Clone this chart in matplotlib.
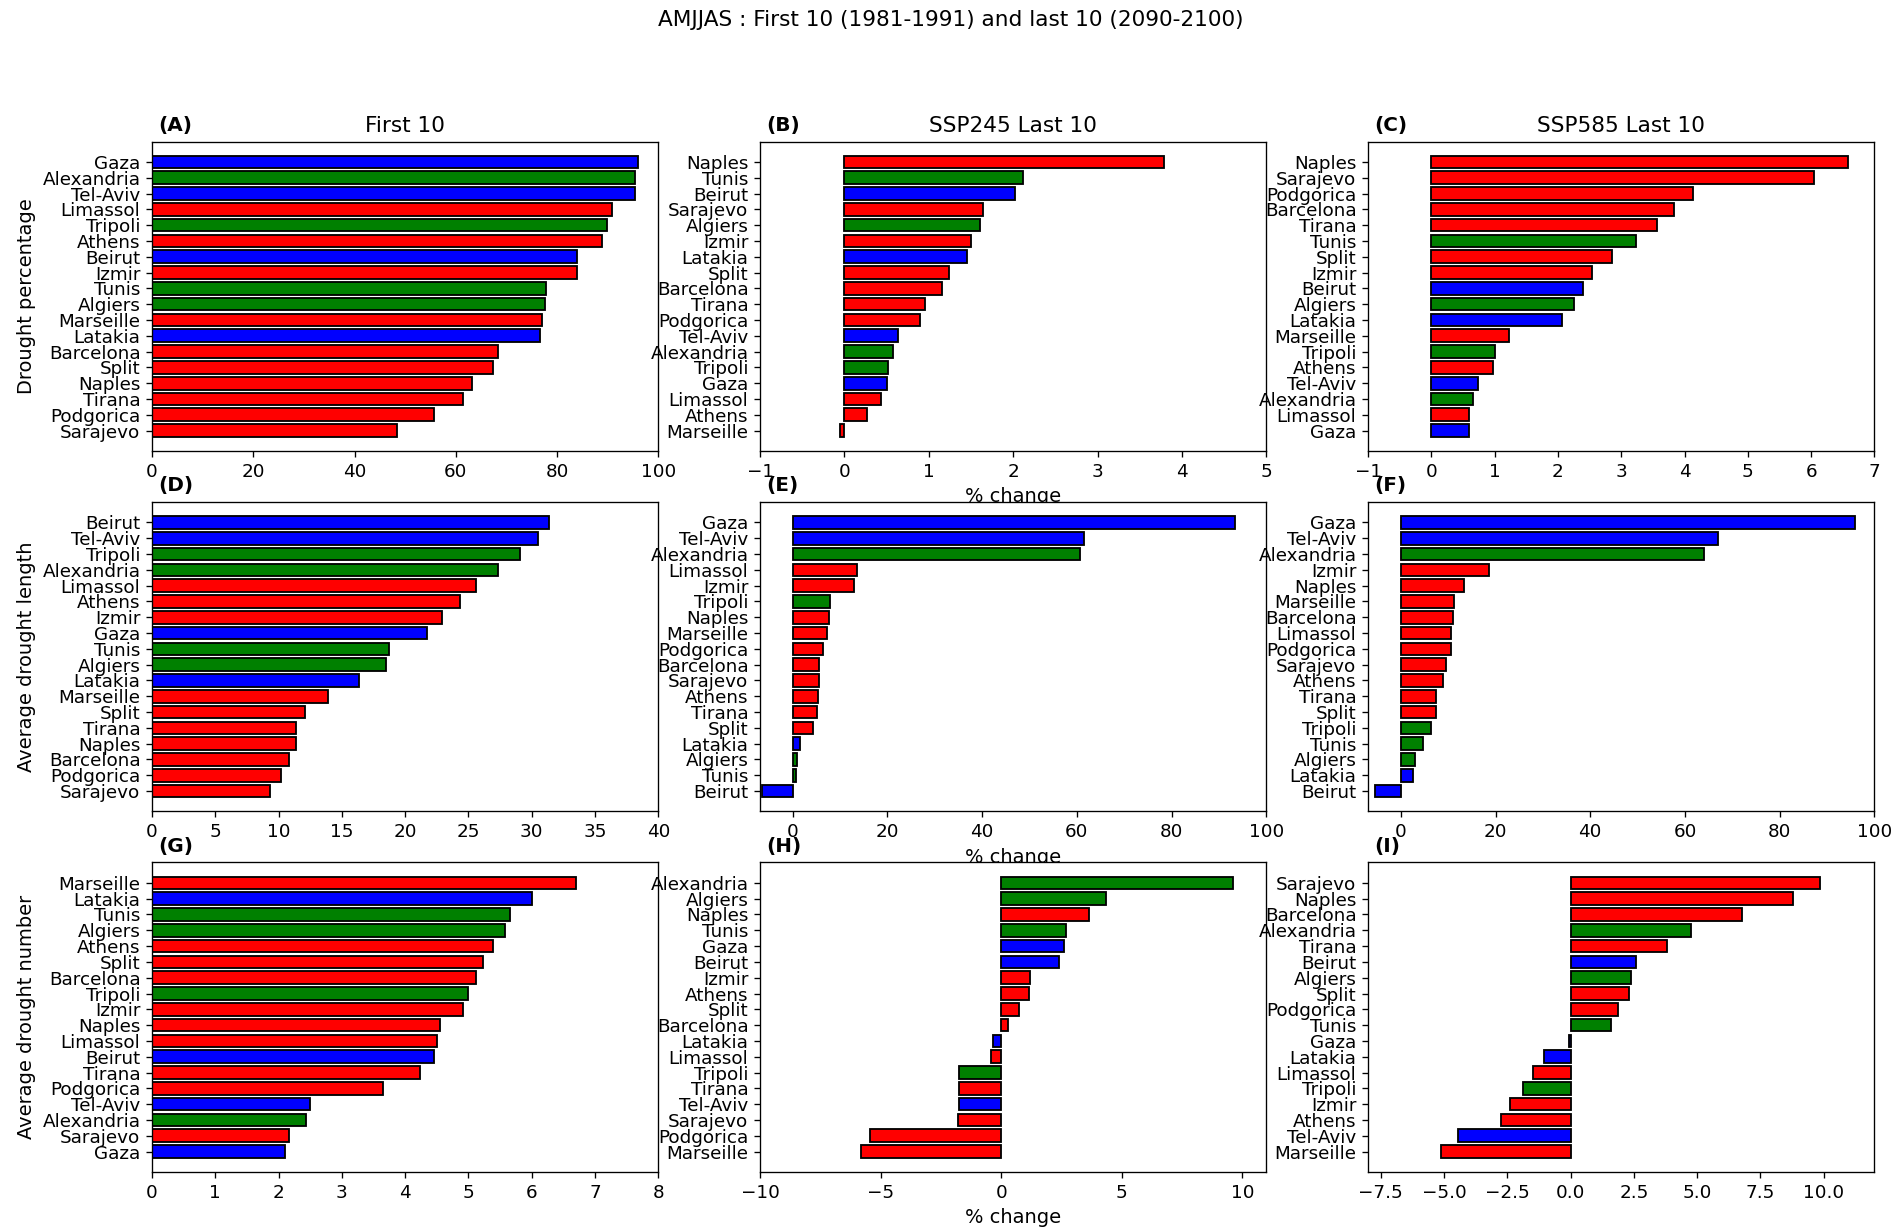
import matplotlib
matplotlib.use("Agg")
import matplotlib.pyplot as plt

BLUE = ["Gaza", "Tel-Aviv", "Beirut", "Latakia"]
GREEN = ["Alexandria", "Tripoli", "Tunis", "Algiers"]

# (A) drought percentage, first 10
a_cities = ["Gaza", "Alexandria", "Tel-Aviv", "Limassol", "Tripoli", "Athens", "Beirut", "Izmir", "Tunis",
            "Algiers", "Marseille", "Latakia", "Barcelona", "Split", "Naples", "Tirana", "Podgorica", "Sarajevo"]
a_vals = [96.0, 95.4, 95.35, 90.9, 89.9, 88.8, 83.9, 83.9, 77.8, 77.6, 77.1, 76.7, 68.3, 67.3, 63.1, 61.4, 55.6, 48.4]

# (B) SSP245 % change
b_cities = ["Naples", "Tunis", "Beirut", "Sarajevo", "Algiers", "Izmir", "Latakia", "Split", "Barcelona",
            "Tirana", "Podgorica", "Tel-Aviv", "Alexandria", "Tripoli", "Gaza", "Limassol", "Athens", "Marseille"]
b_vals = [3.79, 2.11, 2.02, 1.64, 1.61, 1.50, 1.45, 1.24, 1.15, 0.96, 0.89, 0.64, 0.57, 0.51, 0.50, 0.43, 0.27, -0.05]

# (C) SSP585 % change
c_cities = ["Naples", "Sarajevo", "Podgorica", "Barcelona", "Tirana", "Tunis", "Split", "Izmir", "Beirut",
            "Algiers", "Latakia", "Marseille", "Tripoli", "Athens", "Tel-Aviv", "Alexandria", "Limassol", "Gaza"]
c_vals = [6.59, 6.04, 4.14, 3.84, 3.57, 3.24, 2.85, 2.54, 2.39, 2.26, 2.07, 1.23, 1.01, 0.97, 0.73, 0.66, 0.60, 0.59]

# (D) average drought length, first 10
d_cities = ["Beirut", "Tel-Aviv", "Tripoli", "Alexandria", "Limassol", "Athens", "Izmir", "Gaza", "Tunis",
            "Algiers", "Latakia", "Marseille", "Split", "Tirana", "Naples", "Barcelona", "Podgorica", "Sarajevo"]
d_vals = [31.35, 30.5, 29.1, 27.3, 25.6, 24.3, 22.9, 21.7, 18.75, 18.45, 16.35, 13.9, 12.05, 11.4, 11.35, 10.85, 10.2, 9.3]

# (E) SSP245 % change
e_cities = ["Gaza", "Tel-Aviv", "Alexandria", "Limassol", "Izmir", "Tripoli", "Naples", "Marseille", "Podgorica",
            "Barcelona", "Sarajevo", "Athens", "Tirana", "Split", "Latakia", "Algiers", "Tunis", "Beirut"]
e_vals = [93.4, 61.4, 60.6, 13.5, 12.9, 7.9, 7.6, 7.2, 6.4, 5.6, 5.55, 5.35, 5.05, 4.3, 1.6, 0.8, 0.65, -6.6]

# (F) SSP585 % change
f_cities = ["Gaza", "Tel-Aviv", "Alexandria", "Izmir", "Naples", "Marseille", "Barcelona", "Limassol", "Podgorica",
            "Sarajevo", "Athens", "Tirana", "Split", "Tripoli", "Tunis", "Algiers", "Latakia", "Beirut"]
f_vals = [95.9, 67.0, 64.1, 18.6, 13.3, 11.2, 11.1, 10.7, 10.6, 9.5, 9.0, 7.45, 7.4, 6.4, 4.6, 3.0, 2.6, -5.5]

# (G) average drought number, first 10
g_cities = ["Marseille", "Latakia", "Tunis", "Algiers", "Athens", "Split", "Barcelona", "Tripoli", "Izmir",
            "Naples", "Limassol", "Beirut", "Tirana", "Podgorica", "Tel-Aviv", "Alexandria", "Sarajevo", "Gaza"]
g_vals = [6.70, 6.00, 5.65, 5.57, 5.38, 5.23, 5.12, 4.99, 4.92, 4.55, 4.51, 4.46, 4.24, 3.65, 2.50, 2.44, 2.16, 2.10]

# (H) SSP245 % change
h_cities = ["Alexandria", "Algiers", "Naples", "Tunis", "Gaza", "Beirut", "Izmir", "Athens", "Split",
            "Barcelona", "Latakia", "Limassol", "Tripoli", "Tirana", "Tel-Aviv", "Sarajevo", "Podgorica", "Marseille"]
h_vals = [9.61, 4.35, 3.65, 2.69, 2.61, 2.38, 1.18, 1.17, 0.74, 0.27, -0.35, -0.43, -1.75, -1.76, -1.77, -1.80, -5.43, -5.82]

# (I) SSP585 % change
i_cities = ["Sarajevo", "Naples", "Barcelona", "Alexandria", "Tirana", "Beirut", "Algiers", "Split", "Podgorica",
            "Tunis", "Gaza", "Latakia", "Limassol", "Tripoli", "Izmir", "Athens", "Tel-Aviv", "Marseille"]
i_vals = [9.84, 8.80, 6.76, 4.77, 3.79, 2.60, 2.39, 2.29, 1.88, 1.59, -0.07, -1.07, -1.48, -1.87, -2.39, -2.76, -4.43, -5.12]

row_labels = ["Drought percentage", "Average drought length", "Average drought number"]
col_titles = ["First 10", "SSP245 Last 10", "SSP585 Last 10"]


def city_color(city):
    if city in BLUE:
        return "blue"
    if city in GREEN:
        return "green"
    return "red"


def draw_panel(ax, cities, vals, letter):
    cities = cities[::-1]
    vals = vals[::-1]
    ax.barh(cities, vals, height=0.8, color=[city_color(c) for c in cities],
            edgecolor="black", linewidth=1.1)
    ax.tick_params(labelsize=11)
    ax.text(0.012, 1.022, letter, transform=ax.transAxes, fontsize=12, fontweight="bold",
            ha="left", va="bottom")


fig, axes = plt.subplots(3, 3, figsize=(1901 / 120, 1231 / 120), dpi=120)
fig.subplots_adjust(left=0.080, right=0.986, top=0.885, bottom=0.048, wspace=0.201, hspace=0.165)

panels = [
    (a_cities, a_vals, "(A)"), (b_cities, b_vals, "(B)"), (c_cities, c_vals, "(C)"),
    (d_cities, d_vals, "(D)"), (e_cities, e_vals, "(E)"), (f_cities, f_vals, "(F)"),
    (g_cities, g_vals, "(G)"), (h_cities, h_vals, "(H)"), (i_cities, i_vals, "(I)"),
]
for ax, (cities, vals, letter) in zip(axes.flat, panels):
    draw_panel(ax, cities, vals, letter)

for r in range(3):
    axes[r, 0].set_ylabel(row_labels[r], fontsize=11.6)
    axes[r, 1].set_xlabel("% change", fontsize=11.6)
for c in range(3):
    axes[0, c].set_title(col_titles[c], fontsize=13)

axes[0, 0].set_xlim(0, 100)
axes[0, 0].set_xticks(range(0, 101, 20))
axes[0, 1].set_xlim(-1, 5)
axes[0, 1].set_xticks(range(-1, 6))
axes[0, 2].set_xlim(-1, 7)
axes[0, 2].set_xticks(range(-1, 8))
axes[1, 0].set_xlim(0, 40)
axes[1, 0].set_xticks(range(0, 41, 5))
axes[1, 1].set_xlim(-6.9, 100)
axes[1, 1].set_xticks(range(0, 101, 20))
axes[1, 2].set_xlim(-6.9, 100)
axes[1, 2].set_xticks(range(0, 101, 20))
axes[2, 0].set_xlim(0, 8)
axes[2, 0].set_xticks(range(0, 9))
axes[2, 1].set_xlim(-10, 11)
axes[2, 1].set_xticks([-10, -5, 0, 5, 10])
axes[2, 2].set_xlim(-8, 12)
axes[2, 2].set_xticks([-7.5, -5.0, -2.5, 0.0, 2.5, 5.0, 7.5, 10.0])

fig.suptitle("AMJJAS : First 10 (1981-1991) and last 10 (2090-2100)", fontsize=13, y=0.992)

fig.savefig("out.png", dpi=120)
